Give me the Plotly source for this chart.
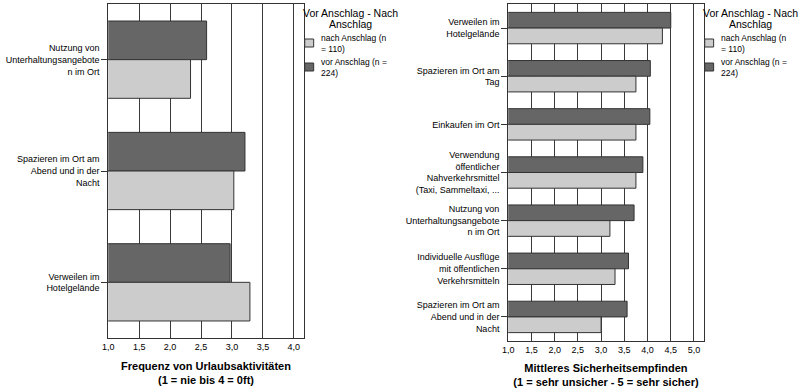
import plotly.graph_objects as go

# ---- data ----
left_categories = [
    "Nutzung von<br>Unterhaltungsangebote<br>n im Ort",
    "Spazieren im Ort am<br>Abend und in der<br>Nacht",
    "Verweilen im<br>Hotelgelände",
]
left_vor = [2.59, 3.21, 2.97]
left_nach = [2.33, 3.03, 3.29]

right_categories = [
    "Verweilen im<br>Hotelgelände",
    "Spazieren im Ort am<br>Tag",
    "Einkaufen im Ort",
    "Verwendung<br>öffentlicher<br>Nahverkehrsmittel<br>(Taxi, Sammeltaxi, ...",
    "Nutzung von<br>Unterhaltungsangebote<br>n im Ort",
    "Individuelle Ausflüge<br>mit öffentlichen<br>Verkehrsmitteln",
    "Spazieren im Ort am<br>Abend und in der<br>Nacht",
]
right_vor = [4.50, 4.06, 4.05, 3.90, 3.71, 3.59, 3.56]
right_nach = [4.32, 3.75, 3.75, 3.75, 3.19, 3.30, 3.00]

name_vor = "vor Anschlag (n =<br>224)"
name_nach = "nach Anschlag (n<br>= 110)"
legend_title_lines = ["Vor Anschlag - Nach", "Anschlag"]

left_ticks = [1.0, 1.5, 2.0, 2.5, 3.0, 3.5, 4.0]
right_ticks = [1.0, 1.5, 2.0, 2.5, 3.0, 3.5, 4.0, 4.5, 5.0]

left_title = "<b>Frequenz von Urlaubsaktivitäten<br>(1 = nie bis 4 = 0ft)</b>"
right_title = "<b>Mittleres Sicherheitsempfinden<br>(1 = sehr unsicher - 5 = sehr sicher)</b>"

# ---- style ----
DARK = "#666666"
LIGHT = "#cccccc"
EDGE = "#333333"
FONT = "Liberation Sans, Arial, sans-serif"
W, H = 800, 388


def px(x):
    return x / W


def py(y):
    return 1 - y / H


fig = go.Figure()

wl = 0.347
wr = 0.326

series = [
    (left_vor, left_categories, DARK, name_vor, wl, -wl, "x", "y"),
    (left_nach, left_categories, LIGHT, name_nach, wl, 0, "x", "y"),
    (right_vor, right_categories, DARK, name_vor, wr, -wr, "x2", "y2"),
    (right_nach, right_categories, LIGHT, name_nach, wr, 0, "x2", "y2"),
]
for vals, cats, col, nm, w, off, xa, ya in series:
    fig.add_trace(go.Bar(y=cats, x=vals, orientation="h", name=nm.replace("<br>", " "),
                         marker=dict(color=col, line=dict(color=EDGE, width=1)),
                         width=w, offset=off, xaxis=xa, yaxis=ya, base=0, showlegend=False))

xcommon = dict(showgrid=True, gridcolor="#3a3a3a", gridwidth=1, showline=True, linecolor=EDGE,
               linewidth=1, mirror=True, ticks="", tickformat=".1f", zeroline=False,
               tickfont=dict(size=9, color="#000"), title_font=dict(size=11, color="#000"),
               title_standoff=11)
ycommon = dict(showgrid=False, showline=True, linecolor=EDGE, linewidth=1, mirror=True,
               ticks="outside", ticklen=6, tickcolor=EDGE, autorange="reversed",
               tickfont=dict(size=9, color="#000"), type="category")

# manual legend (title, swatches, labels) next to each plot
annotations = []
shapes = []
for x0 in (300, 703):
    for j, line in enumerate(legend_title_lines):
        annotations.append(dict(text=line, x=px(x0 + 47), y=py(13 + j * 11), xref="paper",
                                yref="paper", xanchor="center", yanchor="middle",
                                showarrow=False, align="center",
                                font=dict(size=10.5, color="#000")))
    for i, (nm, col) in enumerate([(name_nach, LIGHT), (name_vor, DARK)]):
        yc = 43 + i * 24
        shapes.append(dict(type="rect", xref="paper", yref="paper",
                           x0=px(x0 + 1), x1=px(x0 + 10), y0=py(yc - 4), y1=py(yc + 4),
                           fillcolor=col, line=dict(color=EDGE, width=1)))
        annotations.append(dict(text=nm, x=px(x0 + 15), y=py(yc), xref="paper", yref="paper",
                                xanchor="left", yanchor="middle", showarrow=False, align="left",
                                font=dict(size=8.5, color="#000")))

fig.update_layout(
    width=W, height=H,
    margin=dict(l=0, r=0, t=0, b=0),
    paper_bgcolor="white", plot_bgcolor="white",
    barmode="overlay",
    separators=",.",
    showlegend=False,
    hovermode=False,
    font=dict(family=FONT, color="#000"),
    xaxis=dict(domain=[px(103), px(300)], range=[1, 4.16], tickvals=left_ticks,
               anchor="y", title_text=left_title, **xcommon),
    yaxis=dict(domain=[py(338), py(4)], anchor="x", **ycommon),
    xaxis2=dict(domain=[px(506), px(703)], range=[1, 5.21], tickvals=right_ticks,
                anchor="y2", title_text=right_title, **xcommon),
    yaxis2=dict(domain=[py(341), py(4)], anchor="x2", **ycommon),
    annotations=annotations,
    shapes=shapes,
)

fig.write_html("out.html", config=dict(displayModeBar=False),
               post_script="document.body.style.margin='0px';")
